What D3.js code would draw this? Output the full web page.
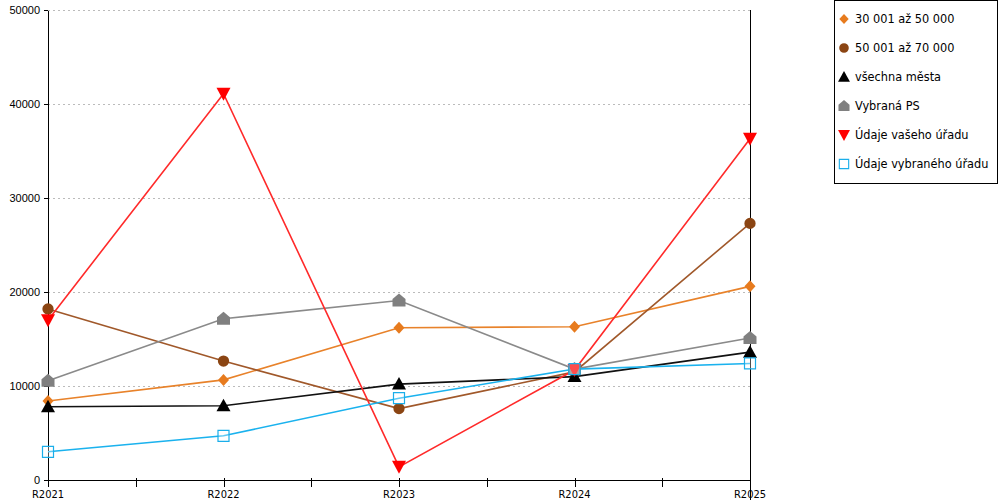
<!DOCTYPE html>
<html>
<head>
<meta charset="utf-8">
<script src="https://cdn.jsdelivr.net/npm/d3@7"></script>
<style>
  body { margin: 0; background: #fff; }
  svg { font-family: "DejaVu Sans Condensed", "DejaVu Sans", sans-serif; }
  .grid line { stroke: #bbb; stroke-dasharray: 2,3; shape-rendering: crispEdges; }
  .axis line, .axis path { shape-rendering: crispEdges; }
  .axis text { font-size: 11px; fill: #000; }
  .legend text { font-size: 12.6px; fill: #000; }
</style>
</head>
<body>
<svg id="chart"></svg>
<script>
// data
const years = ['R2021', 'R2022', 'R2023', 'R2024', 'R2025'];
const yTicks = [0, 10000, 20000, 30000, 40000, 50000];

const seriesNames = ['30 001 až 50 000', '50 001 až 70 000', 'všechna města',
    'Vybraná PS', 'Údaje vašeho úřadu', 'Údaje vybraného úřadu'];
const size30to50 = [8400, 10650, 16200, 16300, 20600];
const size50to70 = [18200, 12650, 7600, 11500, 27300];
const allCities = [7800, 7900, 10200, 11000, 13600];
const selectedPS = [10550, 17150, 19100, 11800, 15100];
const yourOffice = [17000, 41100, 1400, 11700, 36300];
const selectedOffice = [3000, 4700, 8700, 11800, 12400];

const width = 1000, height = 500;
const margin = {top: 10, right: 250, bottom: 20, left: 48};

const series = [
    {name: seriesNames[0], values: size30to50, color: '#e77b1e', line: '#e8822a', shape: 'diamond'},
    {name: seriesNames[1], values: size50to70, color: '#8b4513', line: '#a0582a', shape: 'circle'},
    {name: seriesNames[2], values: allCities, color: '#000000', line: '#111111', shape: 'triangle'},
    {name: seriesNames[3], values: selectedPS, color: '#808080', line: '#8a8a8a', shape: 'house'},
    {name: seriesNames[4], values: yourOffice, color: '#ff0000', line: '#ff2a2a', shape: 'triangleDown'},
    {name: seriesNames[5], values: selectedOffice, color: '#1aaeea', line: '#1ab2ee', shape: 'square'}
];

const svg = d3.select('#chart')
    .attr('width', width)
    .attr('height', height);

const x = d3.scalePoint()
    .domain(years)
    .range([margin.left, width - margin.right]);

const y = d3.scaleLinear()
    .domain([0, 50000])
    .range([480, margin.top]);

// horizontal dotted grid
svg.append('g')
    .attr('class', 'grid')
    .selectAll('line')
    .data(yTicks.filter(d => d > 0))
    .join('line')
    .attr('x1', x.range()[0])
    .attr('x2', x.range()[1])
    .attr('y1', d => y(d) + 0.5)
    .attr('y2', d => y(d) + 0.5);

// y axis
const yAxis = d3.axisLeft(y)
    .tickValues(yTicks)
    .tickSize(4)
    .tickSizeOuter(0)
    .tickFormat(d3.format('d'));
const yAxisG = svg.append('g')
    .attr('class', 'axis')
    .attr('transform', `translate(${margin.left},0)`)
    .call(yAxis);
yAxisG.select('.domain').attr('stroke', '#000');
yAxisG.selectAll('text').attr('x', -8);

// x axis with ticks at categories and midpoints
const xAxisG = svg.append('g')
    .attr('class', 'axis')
    .attr('transform', `translate(0,${y(0) + 0.5})`);
xAxisG.append('line')
    .attr('x1', x.range()[0])
    .attr('x2', x.range()[1])
    .attr('stroke', '#000');
const tickPos = [];
years.forEach((d, i) => {
    tickPos.push(x(d));
    if (i < years.length - 1) tickPos.push((x(d) + x(years[i + 1])) / 2);
});
xAxisG.selectAll('line.tick')
    .data(tickPos)
    .join('line')
    .attr('class', 'tick')
    .attr('x1', d => Math.round(d) + 0.5).attr('x2', d => Math.round(d) + 0.5)
    .attr('y1', -3).attr('y2', 6)
    .attr('stroke', '#000');
xAxisG.selectAll('text')
    .data(years)
    .join('text')
    .attr('x', d => x(d))
    .attr('y', 17)
    .attr('text-anchor', 'middle')
    .text(d => d);

// right vertical line
svg.append('line')
    .attr('class', 'axis')
    .attr('x1', x.range()[1] + 0.5).attr('x2', x.range()[1] + 0.5)
    .attr('y1', margin.top).attr('y2', height)
    .attr('stroke', '#000')
    .style('shape-rendering', 'crispEdges');

// marker shapes
function markerPath(shape) {
    switch (shape) {
        case 'diamond': return 'M0,-6L5.5,0L0,6L-5.5,0Z';
        case 'circle': return d3.symbol(d3.symbolCircle, 100)();
        case 'triangle': return 'M0,-7L7,5.5L-7,5.5Z';
        case 'triangleDown': return 'M-7,-6L7,-6L0,7Z';
        case 'house': return 'M0,-7L6.5,-1.5L6.5,6L-6.5,6L-6.5,-1.5Z';
        case 'square': return 'M-5.5,-5.5H5.5V5.5H-5.5Z';
    }
}

const line = d3.line()
    .x((d, i) => x(years[i]))
    .y(d => y(d));

const plot = svg.append('g');
series.forEach(s => {
    plot.append('path')
        .datum(s.values)
        .attr('d', line)
        .attr('fill', 'none')
        .attr('stroke', s.line)
        .attr('stroke-width', 1.6);
});
series.forEach(s => {
    plot.append('g')
        .selectAll('path')
        .data(s.values)
        .join('path')
        .attr('transform', (d, i) => `translate(${x(years[i])},${y(d)})`)
        .attr('d', markerPath(s.shape))
        .attr('fill', s.shape === 'square' ? '#fff' : s.color)
        .attr('fill-opacity', s.shape === 'square' ? 0.3 : 1)
        .attr('stroke', s.shape === 'square' ? s.color : 'none')
        .attr('stroke-width', 1.2);
});

// legend
const legend = svg.append('g').attr('class', 'legend');
legend.append('rect')
    .attr('x', 834.5).attr('y', 0.5)
    .attr('width', 163).attr('height', 183)
    .attr('fill', '#fff')
    .attr('stroke', '#000');
const items = legend.selectAll('g.item')
    .data(series)
    .join('g')
    .attr('class', 'item')
    .attr('transform', (d, i) => `translate(844,${19 + i * 29})`);
items.append('path')
    .attr('d', d => markerPath(d.shape))
    .attr('transform', 'scale(0.85)')
    .attr('fill', d => d.shape === 'square' ? '#fff' : d.color)
    .attr('stroke', d => d.shape === 'square' ? d.color : 'none')
    .attr('stroke-width', 1.3);
items.append('text')
    .attr('x', 11)
    .attr('dy', '0.35em')
    .text(d => d.name);
</script>
</body>
</html>
